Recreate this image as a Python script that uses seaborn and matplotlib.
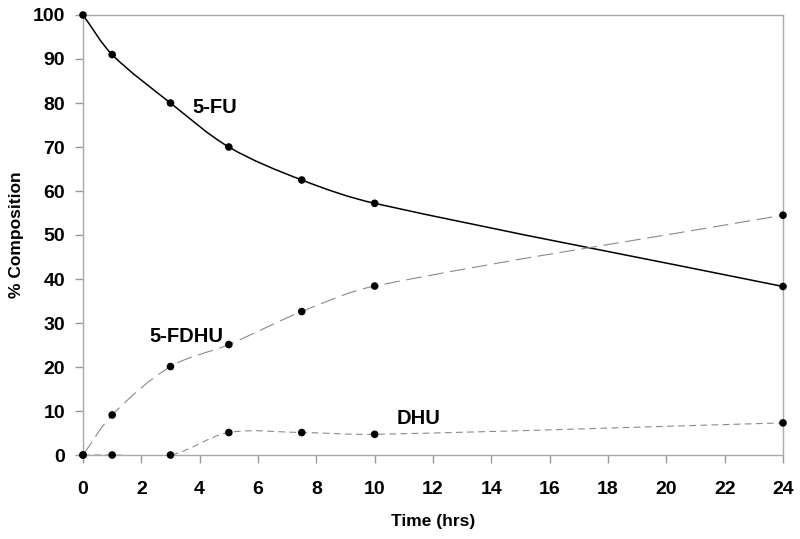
import numpy as np
import pandas as pd
import matplotlib
matplotlib.use("Agg")
import matplotlib.pyplot as plt
from matplotlib.path import Path
from matplotlib.patches import PathPatch
import seaborn as sns

# values
time_hrs = [0, 1, 3, 5, 7.5, 10, 24]
fu = [100, 91, 80, 70, 62.5, 57.2, 38.3]
fdhu = [0, 9.1, 20.1, 25.1, 32.6, 38.4, 54.5]
dhu = [0, 0, 0, 5.1, 5.1, 4.7, 7.3]
series_names = ["5-FU", "5-FDHU", "DHU"]
x_ticks = list(range(0, 25, 2))
y_ticks = list(range(0, 101, 10))

df = pd.DataFrame({
    "time": time_hrs * 3,
    "value": fu + fdhu + dhu,
    "compound": [n for n in series_names for _ in time_hrs],
})

# px per data unit, used so the smoothing works in screen-like space
SX, SY = 700 / 24, 440 / 100


def smooth_path(xs, ys):
    """Smoothed line as cubic Beziers, tangents scaled by segment length."""
    pts = np.column_stack([np.asarray(xs) * SX, np.asarray(ys) * SY]).astype(float)
    n = len(pts)
    tang = []
    for i in range(n):
        d = pts[min(i + 1, n - 1)] - pts[max(i - 1, 0)]
        tang.append(d / np.linalg.norm(d))
    verts = [pts[0]]
    codes = [Path.MOVETO]
    for i in range(n - 1):
        seg = np.linalg.norm(pts[i + 1] - pts[i]) / 3.0
        c1 = pts[i] + tang[i] * seg
        c2 = pts[i + 1] - tang[i + 1] * seg
        verts += [c1, c2, pts[i + 1]]
        codes += [Path.CURVE4] * 3
    verts = np.array(verts) / [SX, SY]
    return Path(verts, codes)


sns.set_theme(style="white")
plt.rcParams["font.family"] = ["Liberation Sans", "DejaVu Sans"]
plt.rcParams["text.color"] = "black"
plt.rcParams["axes.labelcolor"] = "black"

fig = plt.figure(figsize=(8, 5.39), dpi=100)
ax = fig.add_axes([83 / 800, 1 - 455 / 539, 700 / 800, 440 / 539])

line_styles = {
    "5-FU": dict(color="black", lw=1.1, linestyle="-"),
    "5-FDHU": dict(color="#8a8a8a", lw=0.8, linestyle=(0, (14, 6))),
    "DHU": dict(color="#8a8a8a", lw=0.8, linestyle=(0, (6, 4))),
}
for name in series_names:
    sub = df[df["compound"] == name]
    patch = PathPatch(smooth_path(sub["time"], sub["value"]), fill=False,
                      **line_styles[name])
    ax.add_patch(patch)

sns.scatterplot(data=df, x="time", y="value", color="black", s=30,
                edgecolor="none", legend=False, ax=ax, clip_on=False, zorder=5)

ax.set_xlim(0, 24)
ax.set_ylim(0, 100)
ax.set_xticks(x_ticks)
ax.set_yticks(y_ticks)
ax.tick_params(axis="both", which="both", direction="out", colors="#999999",
               labelcolor="black", labelsize=14, length=6, width=1,
               bottom=True, left=True)
ax.tick_params(axis="x", pad=13)
ax.tick_params(axis="y", pad=7)
for lbl in ax.get_xticklabels() + ax.get_yticklabels():
    lbl.set_fontweight("bold")
for sp in ax.spines.values():
    sp.set_color("#aaaaaa")
    sp.set_linewidth(1)

ax.set_xlabel("Time (hrs)", fontsize=12.5, fontweight="bold", color="black")
ax.set_ylabel("% Composition", fontsize=12.5, fontweight="bold", color="black")
ax.xaxis.set_label_coords(0.5, -0.133)
ax.yaxis.set_label_coords(-0.084, 0.5)

ax.text(3.74, 79, "5-FU", fontsize=14.5, fontweight="bold", color="black",
        ha="left", va="center")
ax.text(2.26, 27, "5-FDHU", fontsize=14.5, fontweight="bold", color="black",
        ha="left", va="center")
ax.text(10.77, 8.2, "DHU", fontsize=14.5, fontweight="bold", color="black",
        ha="left", va="center")

fig.savefig("out.png", dpi=100)
